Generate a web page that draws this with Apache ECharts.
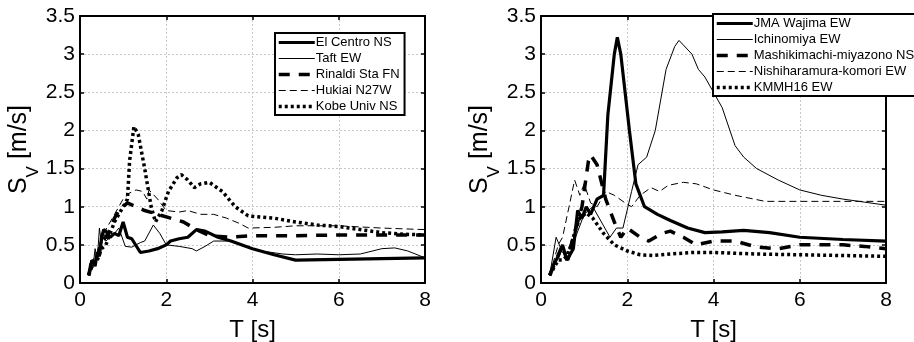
<!DOCTYPE html>
<html>
<head>
<meta charset="utf-8">
<script src="https://cdn.jsdelivr.net/npm/echarts@6/dist/echarts.min.js"></script>
<style>
  html, body { margin: 0; padding: 0; background: #fff; }
  #main { width: 914px; height: 342px; }
</style>
</head>
<body>
<div id="main"></div>
<script>
// ---- left panel ----
const tElCentro = [0.2, 0.25, 0.3, 0.35, 0.4, 0.45, 0.5, 0.55, 0.6, 0.7, 0.8, 0.9, 1.0, 1.1, 1.2, 1.4, 1.6, 1.8, 2.0, 2.1, 2.3, 2.5, 2.7, 2.9, 3.2, 3.5, 4.0, 4.5, 5.0, 6.0, 7.0, 8.0];
const svElCentro = [0.1, 0.25, 0.3, 0.22, 0.4, 0.35, 0.6, 0.7, 0.68, 0.6, 0.65, 0.62, 0.8, 0.6, 0.58, 0.4, 0.42, 0.45, 0.5, 0.55, 0.58, 0.6, 0.7, 0.68, 0.6, 0.55, 0.45, 0.37, 0.3, 0.31, 0.32, 0.33];

const tTaft = [0.2, 0.25, 0.3, 0.35, 0.4, 0.45, 0.5, 0.55, 0.6, 0.7, 0.8, 0.9, 1.05, 1.2, 1.4, 1.5, 1.7, 1.85, 2.0, 2.3, 2.6, 2.7, 2.9, 3.1, 3.5, 3.8, 4.2, 4.7, 5.0, 5.5, 6.0, 6.5, 7.0, 7.3, 7.6, 8.0];
const svTaft = [0.1, 0.3, 0.2, 0.45, 0.3, 0.72, 0.5, 0.65, 0.55, 0.6, 0.65, 0.72, 0.48, 0.47, 0.53, 0.55, 0.76, 0.65, 0.5, 0.48, 0.45, 0.42, 0.48, 0.55, 0.55, 0.48, 0.42, 0.38, 0.37, 0.38, 0.37, 0.38, 0.45, 0.46, 0.42, 0.33];

const tRinaldi = [0.2, 0.3, 0.4, 0.5, 0.6, 0.7, 0.8, 0.9, 1.0, 1.1, 1.3, 1.5, 1.8, 2.1, 2.4, 2.7, 3.0, 3.5, 4.0, 5.0, 6.0, 7.0, 8.0];
const svRinaldi = [0.1, 0.3, 0.35, 0.55, 0.6, 0.7, 0.85, 0.95, 1.0, 1.05, 1.0, 0.95, 0.9, 0.85, 0.8, 0.7, 0.62, 0.6, 0.62, 0.62, 0.63, 0.63, 0.63];

const tHukiai = [0.2, 0.3, 0.4, 0.5, 0.6, 0.7, 0.8, 0.9, 1.0, 1.15, 1.3, 1.45, 1.55, 1.6, 1.8, 2.0, 2.3, 2.5, 2.8, 3.1, 3.4, 3.7, 3.9, 4.5, 5.0, 6.0, 7.0, 8.0];
const svHukiai = [0.1, 0.3, 0.4, 0.6, 0.7, 0.8, 0.9, 1.0, 1.1, 1.18, 1.22, 1.2, 1.1, 1.22, 1.1, 0.95, 0.93, 0.95, 0.9, 0.9, 0.85, 0.78, 0.72, 0.73, 0.75, 0.75, 0.72, 0.7];

const tKobe = [0.2, 0.3, 0.4, 0.5, 0.6, 0.7, 0.8, 0.9, 1.0, 1.1, 1.15, 1.25, 1.35, 1.5, 1.65, 1.75, 1.9, 2.05, 2.25, 2.35, 2.5, 2.65, 2.8, 3.0, 3.3, 3.6, 3.9, 4.5, 5.0, 5.5, 6.0, 6.5, 7.0, 7.5, 8.0];
const svKobe = [0.1, 0.25, 0.3, 0.45, 0.5, 0.65, 0.8, 0.9, 1.0, 1.1, 1.6, 2.05, 1.95, 1.5, 1.0, 0.8, 0.95, 1.2, 1.38, 1.42, 1.35, 1.25, 1.3, 1.32, 1.2, 1.0, 0.88, 0.85, 0.8, 0.76, 0.74, 0.7, 0.66, 0.64, 0.63];

// ---- right panel ----
const tWajima = [0.2, 0.3, 0.4, 0.5, 0.6, 0.75, 0.85, 0.95, 1.05, 1.15, 1.3, 1.45, 1.55, 1.7, 1.77, 1.85, 2.05, 2.2, 2.4, 2.7, 3.0, 3.4, 3.8, 4.2, 4.7, 5.3, 6.0, 7.0, 8.0];
const svWajima = [0.1, 0.25, 0.35, 0.5, 0.3, 0.45, 0.95, 0.85, 1.0, 0.9, 1.1, 1.15, 2.2, 3.0, 3.22, 3.0, 2.0, 1.3, 1.0, 0.9, 0.82, 0.72, 0.66, 0.67, 0.69, 0.66, 0.6, 0.57, 0.55];

const tIchinomiya = [0.2, 0.35, 0.5, 0.65, 0.8, 1.0, 1.2, 1.4, 1.6, 1.75, 1.9, 2.1, 2.25, 2.45, 2.65, 2.9, 3.1, 3.2, 3.5, 3.65, 3.8, 4.2, 4.5, 4.7, 5.0, 5.5, 6.0, 6.5, 7.0, 7.5, 8.0];
const svIchinomiya = [0.1, 0.6, 0.4, 0.3, 0.6, 0.9, 1.0, 0.8, 0.6, 0.72, 0.72, 1.2, 1.55, 1.65, 2.0, 2.8, 3.1, 3.18, 3.0, 2.8, 2.7, 2.3, 1.8, 1.65, 1.5, 1.35, 1.22, 1.15, 1.1, 1.06, 1.02];

const tMashiki = [0.2, 0.35, 0.5, 0.6, 0.8, 0.95, 1.1, 1.15, 1.3, 1.5, 1.7, 1.85, 2.0, 2.3, 2.5, 2.8, 3.0, 3.3, 3.6, 4.0, 4.5, 5.0, 5.5, 6.0, 6.5, 7.0, 7.5, 8.0];
const svMashiki = [0.1, 0.3, 0.5, 0.3, 0.7, 1.0, 1.6, 1.68, 1.55, 1.1, 0.8, 0.6, 0.72, 0.6, 0.55, 0.65, 0.68, 0.6, 0.5, 0.55, 0.55, 0.47, 0.45, 0.5, 0.5, 0.5, 0.48, 0.45];

const tNishihara = [0.2, 0.4, 0.5, 0.65, 0.78, 0.9, 1.0, 1.15, 1.3, 1.5, 1.7, 1.95, 2.1, 2.3, 2.55, 2.75, 2.95, 3.3, 3.6, 4.0, 4.5, 5.2, 6.0, 7.0, 8.0];
const svNishihara = [0.1, 0.5, 0.6, 1.0, 1.35, 1.15, 1.3, 1.05, 1.0, 1.2, 1.15, 1.05, 1.0, 1.15, 1.25, 1.2, 1.28, 1.32, 1.3, 1.22, 1.15, 1.07, 1.07, 1.07, 1.07];

const tKmmh = [0.2, 0.3, 0.4, 0.5, 0.6, 0.7, 0.8, 0.9, 1.05, 1.2, 1.45, 1.7, 2.0, 2.3, 2.6, 3.0, 3.5, 4.0, 5.0, 6.0, 7.0, 8.0];
const svKmmh = [0.1, 0.2, 0.3, 0.3, 0.35, 0.5, 0.7, 0.85, 0.92, 0.85, 0.65, 0.5, 0.42, 0.37, 0.36, 0.38, 0.4, 0.4, 0.38, 0.37, 0.36, 0.35];

const namesLeft = ['El Centro NS', 'Taft EW', 'Rinaldi Sta FN', 'Hukiai N27W', 'Kobe Univ NS'];
const namesRight = ['JMA Wajima EW', 'Ichinomiya EW', 'Mashikimachi-miyazono NS', 'Nishiharamura-komori EW', 'KMMH16 EW'];

const tickFont = 'Liberation Sans, Arial, sans-serif';
const legendFont = 'Liberation Sans, Arial, sans-serif';

const styles = [
  {width: 3.2, type: 'solid'},
  {width: 1, type: 'solid'},
  {width: 3.5, type: [11, 9]},
  {width: 1, type: [7, 4]},
  {width: 3.5, type: [3, 3]}
];

function pairs(t, v) { return t.map((x, i) => [x, v[i]]); }

const leftData = [pairs(tElCentro, svElCentro), pairs(tTaft, svTaft), pairs(tRinaldi, svRinaldi), pairs(tHukiai, svHukiai), pairs(tKobe, svKobe)];
const rightData = [pairs(tWajima, svWajima), pairs(tIchinomiya, svIchinomiya), pairs(tMashiki, svMashiki), pairs(tNishihara, svNishihara), pairs(tKmmh, svKmmh)];

function xAxes(gi) {
  return [
    {
      gridIndex: gi, type: 'value', min: 0, max: 8, interval: 2, position: 'bottom',
      name: 'T [s]', nameLocation: 'middle', nameGap: 35,
      nameTextStyle: {fontSize: 24, color: '#000', fontFamily: tickFont},
      axisLine: {onZero: false, lineStyle: {color: '#000', width: 2}},
      axisTick: {inside: true, length: 4, lineStyle: {color: '#000', width: 1.5}},
      axisLabel: {fontSize: 21, color: '#000', fontFamily: tickFont, margin: 7},
      splitLine: {show: true, lineStyle: {color: '#c8c8c8', type: [2, 2], width: 1}}
    },
    {
      gridIndex: gi, type: 'value', min: 0, max: 8, interval: 2, position: 'top',
      axisLine: {onZero: false, lineStyle: {color: '#000', width: 2}},
      axisTick: {inside: true, length: 4, lineStyle: {color: '#000', width: 1.5}},
      axisLabel: {show: false}, splitLine: {show: false}
    }
  ];
}

function yAxes(gi) {
  return [
    {
      gridIndex: gi, type: 'value', min: 0, max: 3.5, interval: 0.5, position: 'left',
      name: '{s|S}{v|V}{s| [m/s]}', nameLocation: 'middle', nameGap: 40, nameRotate: 90,
      nameTextStyle: {
        color: '#000',
        rich: {
          s: {fontSize: 25, fontFamily: tickFont, color: '#000', verticalAlign: 'top', lineHeight: 28},
          v: {fontSize: 17, fontFamily: tickFont, color: '#000', verticalAlign: 'bottom', lineHeight: 28, padding: [0, 0, -7, 0]}
        }
      },
      axisLine: {onZero: false, lineStyle: {color: '#000', width: 2}},
      axisTick: {inside: true, length: 4, lineStyle: {color: '#000', width: 1.5}},
      axisLabel: {fontSize: 21, color: '#000', fontFamily: tickFont, margin: 5},
      splitLine: {show: true, lineStyle: {color: '#c8c8c8', type: [2, 2], width: 1}}
    },
    {
      gridIndex: gi, type: 'value', min: 0, max: 3.5, interval: 0.5, position: 'right',
      axisLine: {onZero: false, lineStyle: {color: '#000', width: 2}},
      axisTick: {inside: true, length: 4, lineStyle: {color: '#000', width: 1.5}},
      axisLabel: {show: false}, splitLine: {show: false}
    }
  ];
}

function makeSeries(names, data, gi) {
  return names.map((n, i) => ({
    name: n, type: 'line', xAxisIndex: gi * 2, yAxisIndex: gi * 2,
    data: data[i], showSymbol: false, symbol: 'none', smooth: false,
    lineStyle: {color: '#000', width: styles[i].width, type: styles[i].type},
    itemStyle: {color: '#000'},
    emphasis: {disabled: true}, animation: false
  }));
}

function legendItems(names) {
  return names.map((n, i) => ({
    name: n,
    itemStyle: {opacity: 0},
    lineStyle: {color: '#000', width: styles[i].width, type: styles[i].type}
  }));
}

function makeLegend(names, left, top) {
  return {
    data: legendItems(names), left: left, top: top, orient: 'vertical',
    itemWidth: 36, itemHeight: 12, itemGap: 3,
    borderColor: '#000', borderWidth: 2, backgroundColor: '#fff',
    padding: [3, 5, 2, 2], selectedMode: false,
    textStyle: {fontSize: 13, color: '#000', fontFamily: legendFont, padding: [0, 0, 0, -4]}
  };
}

const chart = echarts.init(document.getElementById('main'));

chart.setOption({
  animation: false,
  grid: [
    {left: 80, top: 16, width: 345, height: 267, outerBoundsMode: 'none'},
    {left: 541, top: 16, width: 345, height: 267, outerBoundsMode: 'none'}
  ],
  xAxis: [...xAxes(0), ...xAxes(1)],
  yAxis: [...yAxes(0), ...yAxes(1)],
  legend: [makeLegend(namesLeft, 275, 33), makeLegend(namesRight, 713, 14)],
  series: [...makeSeries(namesLeft, leftData, 0), ...makeSeries(namesRight, rightData, 1)]
});
</script>
</body>
</html>
